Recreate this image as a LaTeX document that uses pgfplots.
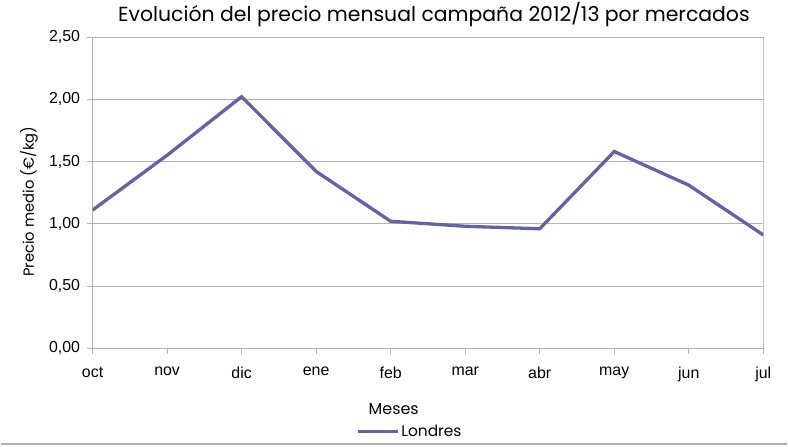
\documentclass[border=0pt]{standalone}
\usepackage{fontspec}
\setmainfont{Poppins}
\newfontfamily\arialf{Liberation Sans}
\usepackage{pgfplots}
\pgfplotsset{compat=1.18}
\definecolor{serie}{RGB}{99,99,158}
\definecolor{gridc}{RGB}{179,179,179}
\definecolor{rightc}{RGB}{217,217,217}
\begin{document}
\begin{tikzpicture}
\begin{axis}[
  scale only axis, width=672bp, height=312bp,
  xmin=0, xmax=9, ymin=0, ymax=2.5,
  xtick={0,1,2,3,4,5,6,7,8,9},
  xticklabels={oct,nov,dic,ene,feb,mar,abr,may,jun,jul},
  ytick={0,0.5,1,1.5,2,2.5},
  ymajorgrids, grid style={gridc, line width=0.8bp},
  axis line style={gridc, line width=0.8bp},
  tick style={gridc, line width=0.8bp},
  tick align=outside, major tick length=6bp,
  xtick pos=bottom, ytick pos=left,
  ticklabel style={font=\arialf\fontsize{16}{18}\selectfont, text=black},
  xticklabel style={yshift=-9bp},
  yticklabel style={xshift=-3bp, /pgf/number format/.cd, use comma, fixed, fixed zerofill, precision=2, assume math mode=true},
  title={Evolución del precio mensual campaña 2012/13 por mercados},
  title style={at={(axis description cs:0.509,1.054)}, anchor=center, font=\fontsize{20.5}{24}\selectfont},
  ylabel={Precio medio (€/kg)},
  ylabel style={at={(axis description cs:-0.095,0.471)}, anchor=center, font=\fontsize{14.8}{16}\selectfont},
  xlabel={Meses},
  xlabel style={at={(axis description cs:0.449,-0.1955)}, anchor=center, font=\fontsize{16}{18}\selectfont},
  legend style={at={(axis description cs:0.473,-0.266)}, anchor=center, draw=none, fill=none, font=\fontsize{15.5}{17}\selectfont, inner sep=0pt},
  legend image code/.code={\draw[#1, line width=3.3bp] (0bp,0bp) -- (40bp,0bp);},
]
\addplot[serie, line width=3.3bp] coordinates {
(0,1.11) (1,1.55) (2,2.02) (3,1.42) (4,1.02) (5,0.98) (6,0.96) (7,1.58) (8,1.31) (9,0.91)
};
\addlegendentry{Londres}
\draw[rightc, line width=1.6bp] (axis description cs:1,0) -- (axis description cs:1,1);
\coordinate (bbsw) at (axis description cs:-0.1369,-0.3141);
\coordinate (bbne) at (axis description cs:1.0357,1.1186);
\end{axis}
\pgfresetboundingbox
\path (bbsw) rectangle (bbne);
\draw[gridc, line width=1.5bp] ([yshift=2bp]bbsw) -- ([yshift=2bp]bbsw -| bbne);
\end{tikzpicture}
\end{document}
